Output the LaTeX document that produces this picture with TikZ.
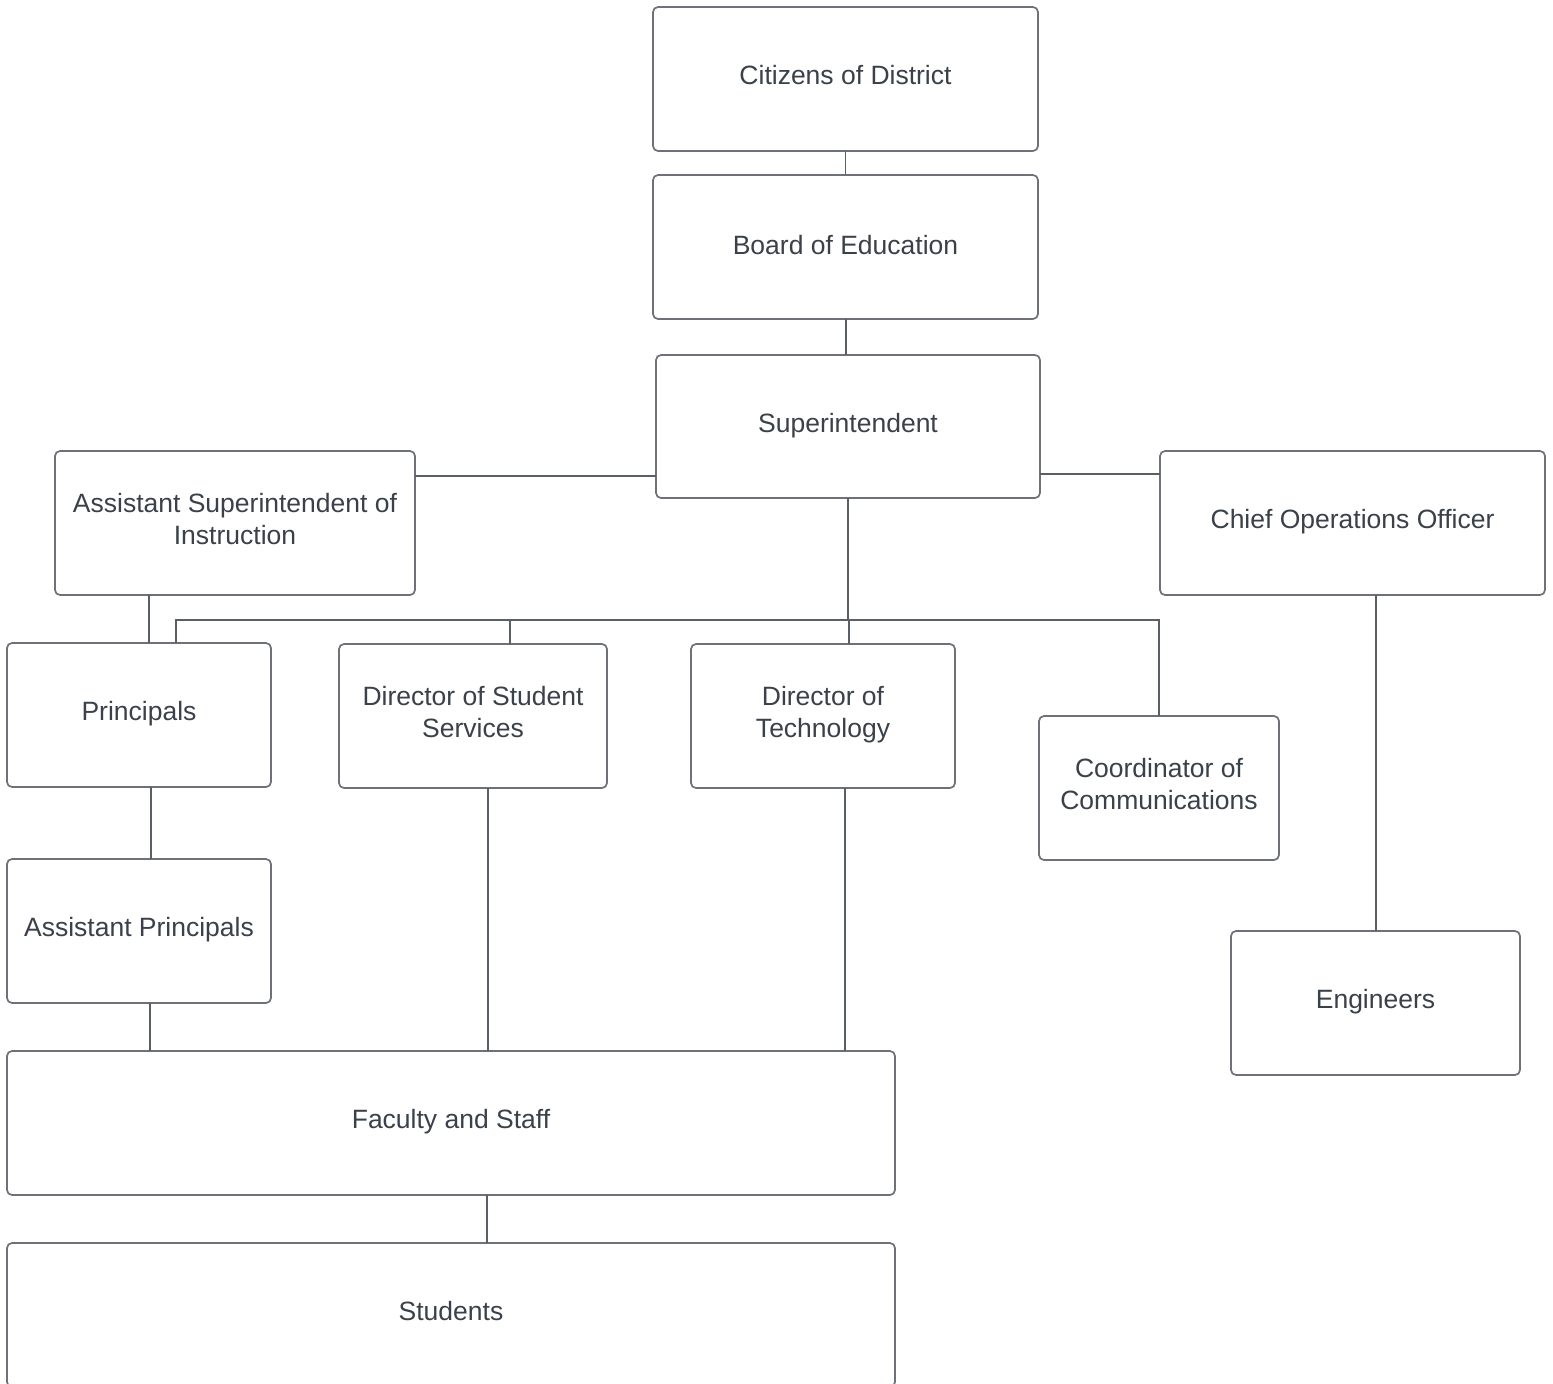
\documentclass[tikz,border=0pt]{standalone}
\usepackage{fontspec}
\setmainfont{Liberation Sans}
\definecolor{bordercol}{HTML}{6E7278}
\definecolor{linkcol}{HTML}{5A5F66}
\definecolor{txtcol}{HTML}{3A414A}
\tikzset{
  box/.style={draw=bordercol, line width=1.7pt, rounded corners=5pt, fill=white,
    inner sep=0pt, outer sep=0pt},
  txt/.style={text=txtcol, align=center, font=\fontsize{26.5}{32}\selectfont, yshift=1pt},
  link/.style={draw=linkcol, line width=1.3pt}
}
\begin{document}
\begin{tikzpicture}[x=1pt,y=-1pt]
\useasboundingbox (0,0) rectangle (1553,1384);
\begin{scope}
\clip (0,0) rectangle (1553,1384);
% boxes
\node[box, minimum width=385pt, minimum height=144pt, label={[txt,yshift=3pt]center:Citizens of District}] (cit) at (845.5,79) {};
\node[box, minimum width=385pt, minimum height=144pt, label={[txt,yshift=1pt]center:Board of Education}] (boe) at (845.5,247) {};
\node[box, minimum width=384pt, minimum height=143pt, label={[txt]center:Superintendent}] (sup) at (848,426.5) {};
\node[box, minimum width=360pt, minimum height=144pt, label={[txt,yshift=3pt]center:{Assistant Superintendent of\\Instruction}}] (asi) at (235,523) {};
\node[box, minimum width=385pt, minimum height=144pt, label={[txt]center:Chief Operations Officer}] (coo) at (1352.5,523) {};
\node[box, minimum width=264pt, minimum height=144pt, label={[txt]center:Principals}] (pri) at (139,715) {};
\node[box, minimum width=268pt, minimum height=144pt, label={[txt,yshift=3pt]center:{Director of Student\\Services}}] (dss) at (473,716) {};
\node[box, minimum width=264pt, minimum height=144pt, label={[txt]center:{Director of\\Technology}}] (dot) at (823,716) {};
\node[box, minimum width=240pt, minimum height=144pt, label={[txt,yshift=3pt]center:{Coordinator of\\Communications}}] (coc) at (1159,788) {};
\node[box, minimum width=264pt, minimum height=144pt, label={[txt]center:Assistant Principals}] (ap) at (139,931) {};
\node[box, minimum width=289pt, minimum height=144pt, label={[txt]center:Engineers}] (eng) at (1375.5,1003) {};
\node[box, minimum width=888pt, minimum height=144pt, label={[txt]center:Faculty and Staff}] (fac) at (451,1123) {};
\node[box, minimum width=888pt, minimum height=144pt, label={[txt,yshift=3pt]center:Students}] (stu) at (451,1315) {};
% connectors
\coordinate (hub) at (848,620);
\draw[link] (cit.south) -- (boe.north);
\draw[link] (boe.south -| 846,0) -- (sup.north -| 846,0);
\draw[link] (sup.west |- 0,476) -- (asi.east |- 0,476);
\draw[link] (sup.east |- 0,474) -- (coo.west |- 0,474);
\draw[link] (sup.south) -- (hub);
\draw[link] (pri.north -| 176,0) |- (hub) -| (coc.north -| 1159,0);
\draw[link] (dss.north -| 510,0) -- (510,620);
\draw[link] (dot.north -| 849,0) -- (849,620);
\draw[link] (asi.south -| 149,0) -- (pri.north -| 149,0);
\draw[link] (pri.south -| 151,0) -- (ap.north -| 151,0);
\draw[link] (ap.south -| 150,0) -- (fac.north -| 150,0);
\draw[link] (dss.south -| 488,0) -- (fac.north -| 488,0);
\draw[link] (dot.south -| 845,0) -- (fac.north -| 845,0);
\draw[link] (coo.south -| 1376,0) -- (eng.north -| 1376,0);
\draw[link] (fac.south -| 487,0) -- (stu.north -| 487,0);
\end{scope}
\end{tikzpicture}
\end{document}
